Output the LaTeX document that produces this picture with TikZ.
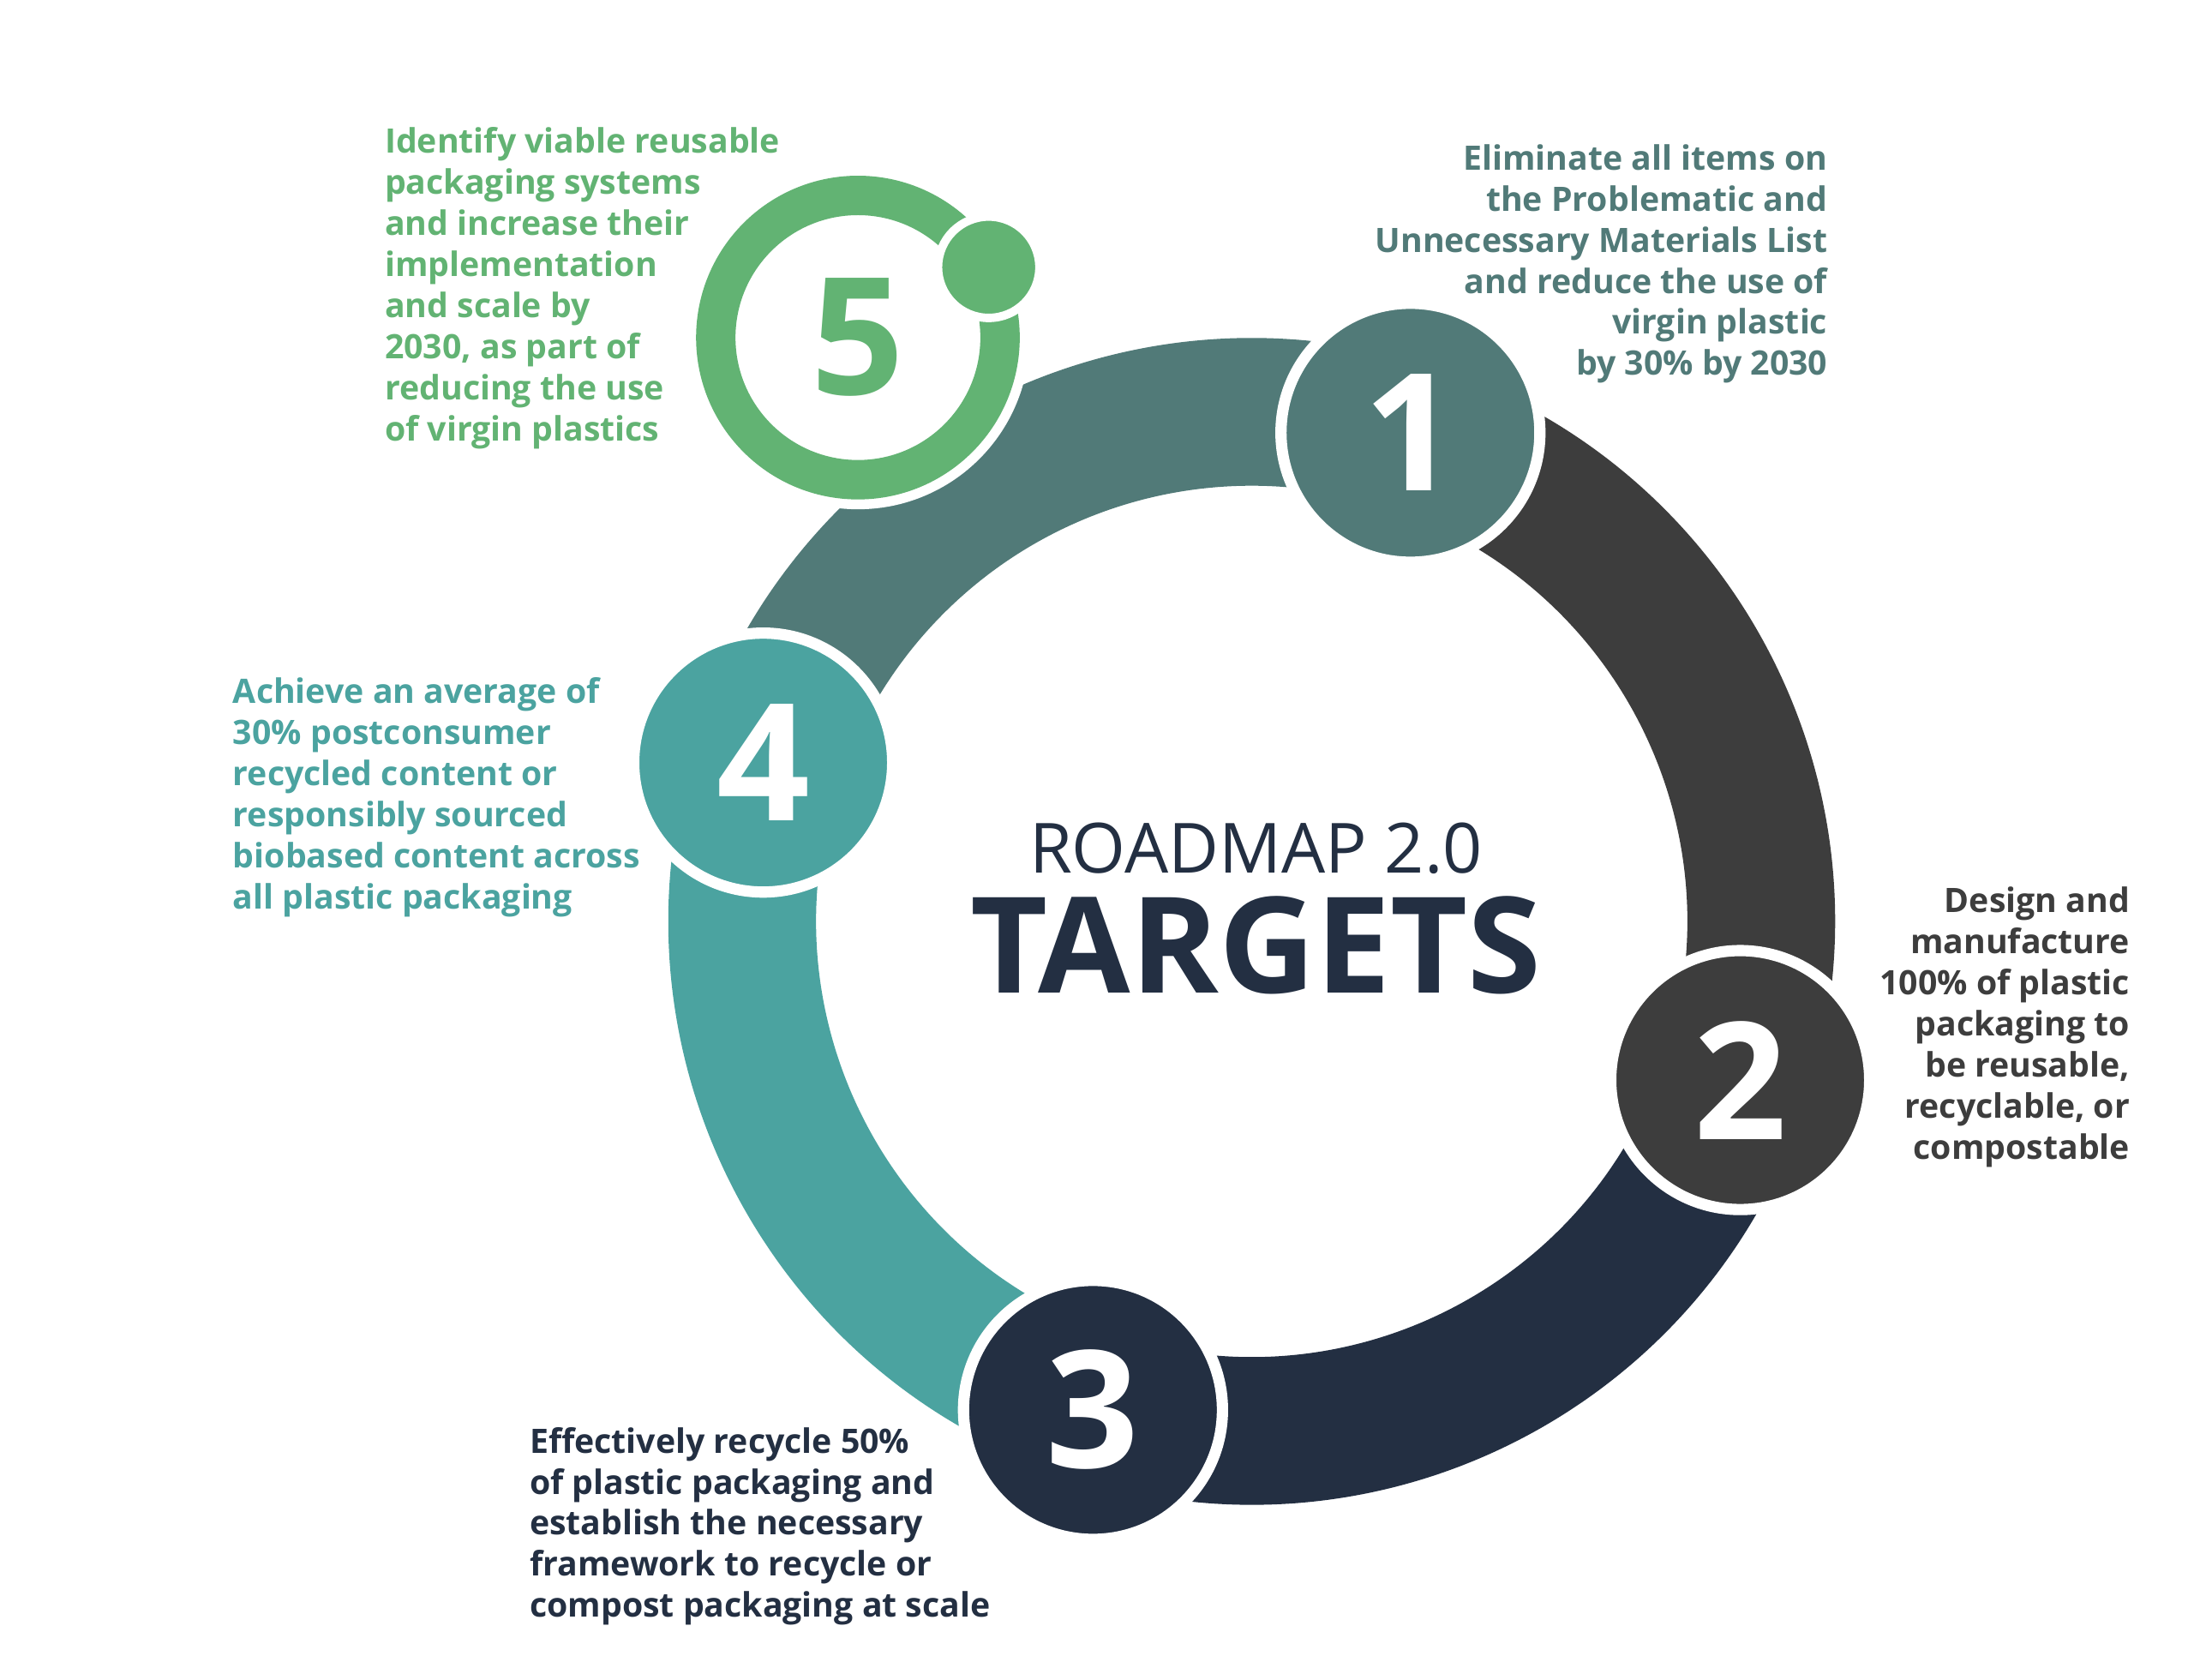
\documentclass[tikz,border=0pt]{standalone}
\usepackage{fontspec}
\setmainfont{Open Sans}
\usetikzlibrary{calc}
\definecolor{slate}{HTML}{517A78}
\definecolor{charcoal}{HTML}{3D3D3D}
\definecolor{navy}{HTML}{232F42}
\definecolor{teal}{HTML}{4BA3A0}
\definecolor{leaf}{HTML}{62B373}
\tikzset{
  seg/.style={line width=1.05cm},
  num/.style={circle, minimum size=1.84cm, draw=white, line width=0.08cm, text=white, font=\bfseries\fontsize{33}{33}\selectfont},
  txt/.style={font=\bfseries\fontsize{6.8}{8.3}\selectfont, inner sep=0pt}
}
\begin{document}
\begin{tikzpicture}[x=0.01cm,y=0.01cm]
\useasboundingbox[fill=white] (0,0) rectangle (1560,-1194);
\coordinate (c) at (890,-655);
%ring segments:
\draw[seg, slate] ($(c)+(165:3.62cm)$) arc (165:72:3.62cm);
\draw[seg, charcoal] ($(c)+(72:3.62cm)$) arc (72:-18:3.62cm);
\draw[seg, navy] ($(c)+(-18:3.62cm)$) arc (-18:-108:3.62cm);
\draw[seg, teal] ($(c)+(-108:3.62cm)$) arc (-108:-198:3.62cm);
%number circles:
\node[num, fill=slate] (one) at ($(c)+(72:3.65cm)$) {1};
\node[num, fill=charcoal] (two) at ($(c)+(-18:3.65cm)$) {2};
\node[num, fill=navy] (three) at ($(c)+(-108:3.65cm)$) {3};
\node[num, fill=teal] (four) at ($(c)+(162:3.65cm)$) {4};
%circle five:
\fill[white] (610,-240) circle (1.22cm);
\draw[leaf, line width=0.28cm] (610,-240) circle (1.01cm);
\node[text=leaf, font=\bfseries\fontsize{33}{33}\selectfont] (five) at (610,-240) {5};
\filldraw[fill=leaf, draw=white, line width=0.06cm] (703,-190) circle (0.36cm);
%title:
\node[text=navy, font=\fontsize{14}{14}\selectfont] (road) at (893,-603) {ROADMAP 2.0};
\node[text=navy, font=\bfseries\fontsize{27}{27}\selectfont] (targets) at (893,-672) {TARGETS};
%texts:
\node[txt, text=leaf, anchor=north west, align=left] (t5) at (273,-90) {Identify viable reusable\\packaging systems\\and increase their\\implementation\\and scale by\\2030, as part of\\reducing the use\\of virgin plastics};
\node[txt, text=slate, anchor=north east, align=right] (t1) at (1300,-102) {Eliminate all items on\\the Problematic and\\Unnecessary Materials List\\and reduce the use of\\virgin plastic\\by 30\% by 2030};
\node[txt, text=charcoal, anchor=north east, align=right] (t2) at (1515,-630) {Design and\\manufacture\\100\% of plastic\\packaging to\\be reusable,\\recyclable, or\\compostable};
\node[txt, text=navy, anchor=north west, align=left] (t3) at (376,-1014) {Effectively recycle 50\%\\of plastic packaging and\\establish the necessary\\framework to recycle or\\compost packaging at scale};
\node[txt, text=teal, anchor=north west, align=left] (t4) at (165,-481) {Achieve an average of\\30\% postconsumer\\recycled content or\\responsibly sourced\\biobased content across\\all plastic packaging};
\end{tikzpicture}
\end{document}
